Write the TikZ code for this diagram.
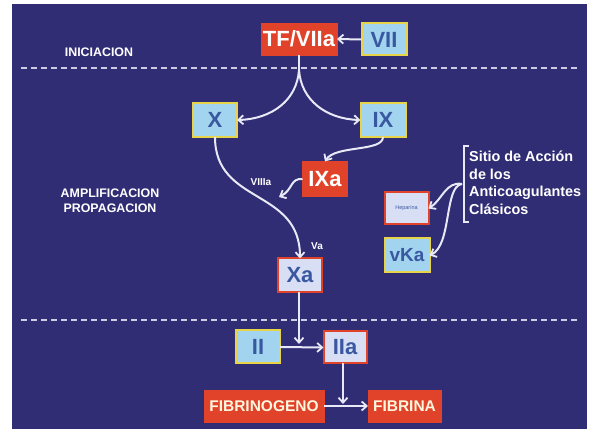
\documentclass[tikz,border=0pt]{standalone}
\usepackage{fontspec}
\setmainfont{Liberation Sans}
\usetikzlibrary{arrows.meta}
\definecolor{bgblue}{RGB}{49,45,116}
\definecolor{boxred}{RGB}{224,67,42}
\definecolor{lblue}{RGB}{162,212,240}
\definecolor{ybord}{RGB}{232,212,72}
\definecolor{lav}{RGB}{216,223,245}
\definecolor{tblue}{RGB}{58,88,160}
\definecolor{linew}{RGB}{232,232,246}
\definecolor{cream}{RGB}{255,246,222}
\begin{document}
\begin{tikzpicture}[x=1pt,y=-1pt,
  base/.style={inner sep=0pt, outer sep=0pt, align=center},
  redbox/.style={base, fill=boxred, draw=boxred, text=white, font=\fontsize{22}{24}\selectfont\bfseries},
  bluebox/.style={base, fill=lblue, draw=ybord, line width=2pt, text=tblue, font=\fontsize{22}{24}\selectfont\bfseries},
  lavbox/.style={base, fill=lav, draw=boxred, line width=2pt, text=tblue, font=\fontsize{22}{24}\selectfont\bfseries},
  endbox/.style={base, fill=boxred, draw=boxred, text=cream, font=\fontsize{15.5}{17}\selectfont\bfseries},
  lbl/.style={inner sep=0pt, text=white, font=\fontsize{12.4}{15}\selectfont\bfseries},
  small/.style={inner sep=0pt, text=white, font=\fontsize{10}{12}\selectfont\bfseries},
  conn/.style={draw=linew, line width=2pt},
  arr/.style={conn, -{Straight Barb[length=5pt,width=9pt,line width=1.8pt]}},
  sep/.style={draw=linew!85!bgblue, line width=2.5pt, dash pattern=on 6pt off 4pt}
]
\useasboundingbox (0,0) rectangle (590,430);
\fill[white] (0,0) rectangle (590,430);
\fill[bgblue] (12,4) rectangle (587,429);

% separators
\draw[sep] (21,68) -- (577,68);
\draw[sep] (21,320) -- (577,320);

% phase labels
\node[lbl] (ini) at (99,52) {INICIACION};
\node[lbl, align=center] (amp) at (110,200.5) {AMPLIFICACION\\PROPAGACION};

% boxes
\node[redbox, minimum width=76pt, minimum height=32pt] (tf) at (299,39) {TF/VIIa};
\node[bluebox, minimum width=45pt, minimum height=32pt] (vii) at (384,39.5) {VII};
\node[bluebox, minimum width=44pt, minimum height=34pt] (x) at (215,120) {X};
\node[bluebox, minimum width=45pt, minimum height=34pt] (ix) at (383,120) {IX};
\node[redbox, minimum width=45pt, minimum height=35pt] (ixa) at (325,179) {IXa};
\node[lavbox, minimum width=44pt, minimum height=34pt] (xa) at (300,275.5) {Xa};
\node[bluebox, minimum width=44pt, minimum height=33pt] (ii) at (258,347) {II};
\node[lavbox, minimum width=43pt, minimum height=32pt] (iia) at (345,347.5) {IIa};
\node[endbox, minimum width=120pt, minimum height=32pt] (fg) at (264,406) {FIBRINOGENO};
\node[endbox, minimum width=73pt, minimum height=32pt] (fb) at (404.5,406) {FIBRINA};
\node[lavbox, minimum width=44pt, minimum height=32pt, font=\fontsize{5.5}{6}\selectfont] (hep) at (406.5,208.5) {Heparina};
\node[bluebox, minimum width=45pt, minimum height=34pt, font=\fontsize{19}{21}\selectfont\bfseries] (vka) at (407,255.5) {vKa};

% side text
\node[lbl, font=\fontsize{14.4}{17.5}\selectfont\bfseries, align=left, anchor=north west] (sitio) at (469,151) {Sitio de Acción\\de los\\Anticoagulantes\\Clásicos};

% small labels
\node[small] (viiia) at (261,182) {VIIIa};
\node[small] (va) at (317,246) {Va};

% connectors
\draw[arr] (vii.west) -- (tf.east);
\coordinate (sp) at (299,70);
\draw[conn] (tf.south) -- (sp);
\draw[arr] (sp) .. controls (297,100) and (272,119) .. (x.east);
\draw[arr] (sp) .. controls (301,100) and (326,119) .. (ix.west);
\draw[arr] (ix.south) .. controls (383,152) and (335,145) .. (ixa.north);
\draw[arr] (x.south) .. controls (215,205) and (300,188) .. (xa.north);
\coordinate (jn) at (279,197);
\draw[arr] (ixa.west) .. controls (290,178) and (293,190) .. (jn);
\coordinate (jx) at (299,344);
\draw[arr] (xa.south -| jx) -- (jx);
\draw[arr] (ii.east) -- (iia.west);
\coordinate (jf) at (343,404);
\draw[arr] (iia.south -| jf) -- (jf);
\draw[arr] (fg.east) -- (fb.west);

% bracket
\draw[conn, line width=1.6pt] (469,146) -- (464,146) -- (464,222) -- (469,222);
\coordinate (br) at (462,184);
\draw[arr] (br) .. controls (446,181) and (442,200) .. (hep.east);
\draw[arr] (br) .. controls (444,186) and (452,245) .. (vka.east);
\end{tikzpicture}
\end{document}
